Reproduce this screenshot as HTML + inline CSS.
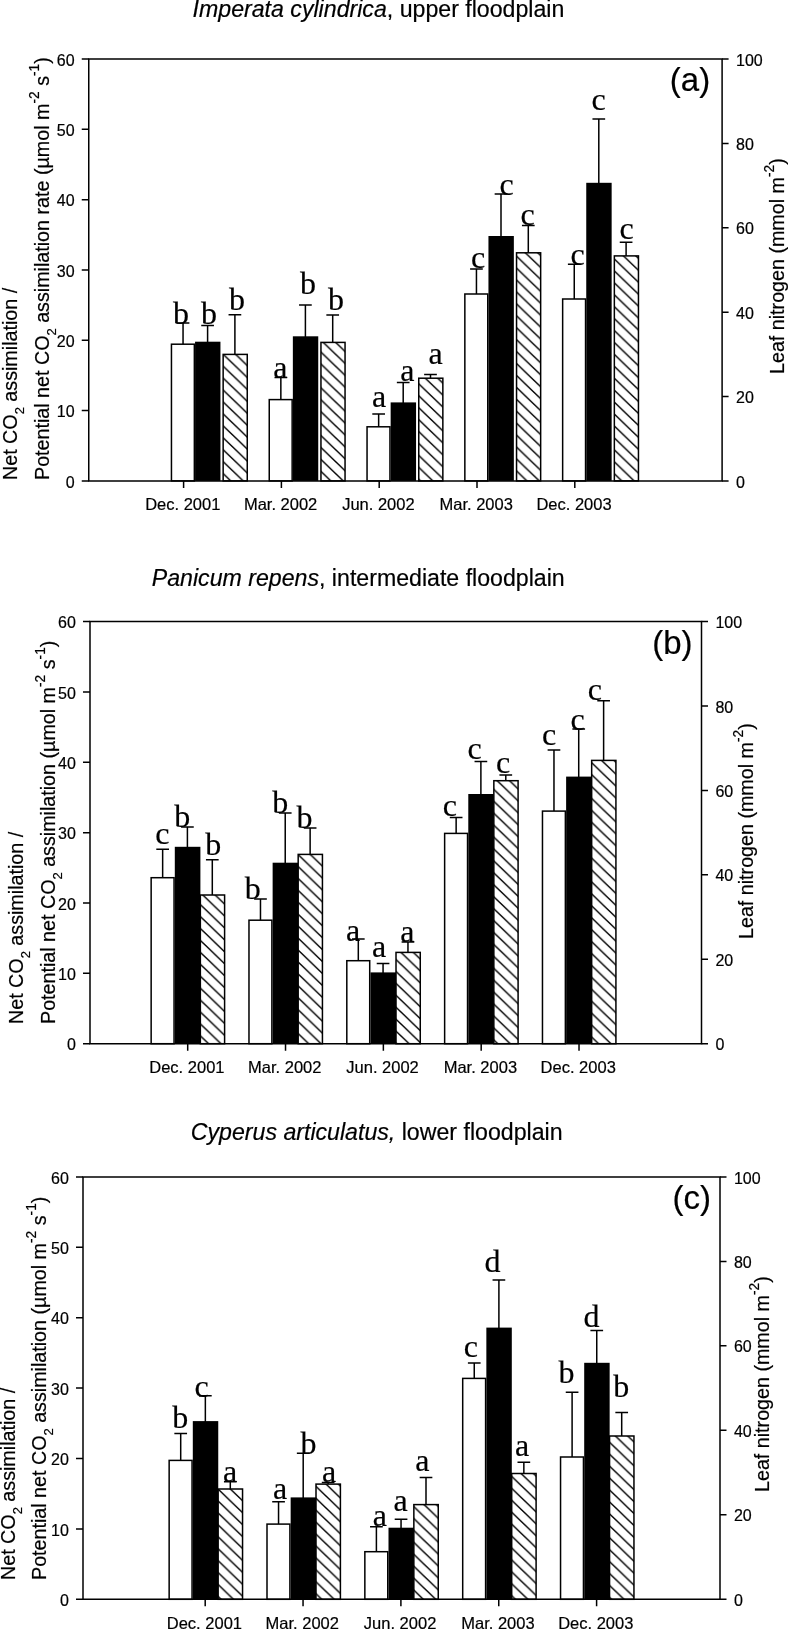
<!DOCTYPE html>
<html><head><meta charset="utf-8"><title>Figure</title>
<style>html,body{margin:0;padding:0;background:#fff}body{width:788px;height:1629px;overflow:hidden;position:relative;filter:grayscale(1);font-family:"Liberation Sans",sans-serif;color:#000}
svg{position:absolute;left:0;top:0}
.t{position:absolute;white-space:nowrap;line-height:1;color:#000;-webkit-text-stroke:0.2px #000}
.yl{transform-origin:0 0;transform:rotate(-90deg);font-size:19.7px}
.yl sub,.yl sup{line-height:0}.yl sub{font-size:66%}.yl sup{font-size:70%}
.yl sub{vertical-align:-0.56em}.yl sup{vertical-align:0.73em}
.ttl{font-size:23.15px}
.tag{font-size:33px}
</style></head><body>
<svg width="788" height="1629" viewBox="0 0 788 1629" font-family="Liberation Sans, sans-serif" fill="#000">
<style>text{stroke:#000;stroke-width:0.2px}</style>
<defs><pattern id="h" patternUnits="userSpaceOnUse" width="12.39" height="11.93"><rect width="12.39" height="11.93" fill="#fff"/><path d="M-1.24,-1.19 L13.63,13.12 M-13.63,-1.19 L1.24,13.12 M11.15,-1.19 L26.02,13.12" stroke="#000" stroke-width="1.4" /></pattern>
<pattern id="ha0" href="#h" patternTransform="translate(0.39 8.53)"/>
<pattern id="ha1" href="#h" patternTransform="translate(1.46 8.66)"/>
<pattern id="ha2" href="#h" patternTransform="translate(4.04 8.37)"/>
<pattern id="ha3" href="#h" patternTransform="translate(5.02 2.27)"/>
<pattern id="ha4" href="#h" patternTransform="translate(4 5.37)"/>
<pattern id="hb0" href="#h" patternTransform="translate(4.86 0.55)"/>
<pattern id="hb1" href="#h" patternTransform="translate(0.75 7.57)"/>
<pattern id="hb2" href="#h" patternTransform="translate(4.52 9.93)"/>
<pattern id="hb3" href="#h" patternTransform="translate(1.6 5.25)"/>
<pattern id="hb4" href="#h" patternTransform="translate(9.52 11.31)"/>
<pattern id="hc0" href="#h" patternTransform="translate(7.38 9.68)"/>
<pattern id="hc1" href="#h" patternTransform="translate(3.86 4.78)"/>
<pattern id="hc2" href="#h" patternTransform="translate(2.84 1.42)"/>
<pattern id="hc3" href="#h" patternTransform="translate(4.51 9.81)"/>
<pattern id="hc4" href="#h" patternTransform="translate(8.79 4.85)"/>
</defs>
<rect width="788" height="1629" fill="#fff"/>
<g id="pa">
<path d="M183.05,344.45 V323.1 M176.7,323.1 H189.4" stroke="#000" stroke-width="1.5" fill="none"/>
<rect x="171.45" y="344.2" width="22.9" height="136.7" fill="#fff" stroke="#000" stroke-width="1.5"/>
<path d="M207.6,342.7 V325.4 M201.25,325.4 H213.95" stroke="#000" stroke-width="1.5" fill="none"/>
<rect x="195.05" y="341.7" width="25.4" height="139.2" fill="#000"/>
<path d="M234.9,354.65 V314.8 M228.55,314.8 H241.25" stroke="#000" stroke-width="1.5" fill="none"/>
<rect x="223.15" y="354.4" width="24.1" height="126.5" fill="url(#ha0)" stroke="#000" stroke-width="1.5"/>
<path d="M280.85,399.85 V377.5 M274.5,377.5 H287.2" stroke="#000" stroke-width="1.5" fill="none"/>
<rect x="269.25" y="399.6" width="22.9" height="81.3" fill="#fff" stroke="#000" stroke-width="1.5"/>
<path d="M305.4,337.3 V305 M299.05,305 H311.75" stroke="#000" stroke-width="1.5" fill="none"/>
<rect x="292.85" y="336.3" width="25.4" height="144.6" fill="#000"/>
<path d="M332.7,342.65 V315 M326.35,315 H339.05" stroke="#000" stroke-width="1.5" fill="none"/>
<rect x="320.95" y="342.4" width="24.1" height="138.5" fill="url(#ha1)" stroke="#000" stroke-width="1.5"/>
<path d="M378.65,427.05 V414.1 M372.3,414.1 H385" stroke="#000" stroke-width="1.5" fill="none"/>
<rect x="367.05" y="426.8" width="22.9" height="54.1" fill="#fff" stroke="#000" stroke-width="1.5"/>
<path d="M403.2,403.4 V382.4 M396.85,382.4 H409.55" stroke="#000" stroke-width="1.5" fill="none"/>
<rect x="390.65" y="402.4" width="25.4" height="78.5" fill="#000"/>
<path d="M430.5,378.45 V374.4 M424.15,374.4 H436.85" stroke="#000" stroke-width="1.5" fill="none"/>
<rect x="418.75" y="378.2" width="24.1" height="102.7" fill="url(#ha2)" stroke="#000" stroke-width="1.5"/>
<path d="M476.45,294.25 V269 M470.1,269 H482.8" stroke="#000" stroke-width="1.5" fill="none"/>
<rect x="464.85" y="294" width="22.9" height="186.9" fill="#fff" stroke="#000" stroke-width="1.5"/>
<path d="M501,237 V194.1 M494.65,194.1 H507.35" stroke="#000" stroke-width="1.5" fill="none"/>
<rect x="488.45" y="236" width="25.4" height="244.9" fill="#000"/>
<path d="M528.3,253.05 V225.5 M521.95,225.5 H534.65" stroke="#000" stroke-width="1.5" fill="none"/>
<rect x="516.55" y="252.8" width="24.1" height="228.1" fill="url(#ha3)" stroke="#000" stroke-width="1.5"/>
<path d="M574.25,299.25 V264.2 M567.9,264.2 H580.6" stroke="#000" stroke-width="1.5" fill="none"/>
<rect x="562.65" y="299" width="22.9" height="181.9" fill="#fff" stroke="#000" stroke-width="1.5"/>
<path d="M598.8,183.8 V118.9 M592.45,118.9 H605.15" stroke="#000" stroke-width="1.5" fill="none"/>
<rect x="586.25" y="182.8" width="25.4" height="298.1" fill="#000"/>
<path d="M626.1,256.15 V242.3 M619.75,242.3 H632.45" stroke="#000" stroke-width="1.5" fill="none"/>
<rect x="614.35" y="255.9" width="24.1" height="225" fill="url(#ha4)" stroke="#000" stroke-width="1.5"/>
<path d="M88,59 H722.85 M88,480.9 H722.85 M88.75,59 V480.9 M722.1,59 V480.9" stroke="#000" stroke-width="1.5" fill="none"/>
<path d="M81.75,480.9 H88.75 M81.75,410.58 H88.75 M81.75,340.27 H88.75 M81.75,269.95 H88.75 M81.75,199.63 H88.75 M81.75,129.32 H88.75 M81.75,59 H88.75 M722.1,480.9 H728.6 M722.1,396.52 H728.6 M722.1,312.14 H728.6 M722.1,227.76 H728.6 M722.1,143.38 H728.6 M722.1,59 H728.6 M183.6,480.9 V487.9 M281.4,480.9 V487.9 M379.2,480.9 V487.9 M477,480.9 V487.9 M574.8,480.9 V487.9" stroke="#000" stroke-width="1.5" fill="none"/>
<text x="74.65" y="487.5" font-size="16" text-anchor="end">0</text>
<text x="74.65" y="417.18" font-size="16" text-anchor="end">10</text>
<text x="74.65" y="346.87" font-size="16" text-anchor="end">20</text>
<text x="74.65" y="276.55" font-size="16" text-anchor="end">30</text>
<text x="74.65" y="206.23" font-size="16" text-anchor="end">40</text>
<text x="74.65" y="135.92" font-size="16" text-anchor="end">50</text>
<text x="74.65" y="65.6" font-size="16" text-anchor="end">60</text>
<text x="736" y="487.5" font-size="16">0</text>
<text x="736" y="403.12" font-size="16">20</text>
<text x="736" y="318.74" font-size="16">40</text>
<text x="736" y="234.36" font-size="16">60</text>
<text x="736" y="149.98" font-size="16">80</text>
<text x="736" y="65.6" font-size="16">100</text>
<text x="182.8" y="510.3" font-size="16.5" text-anchor="middle">Dec. 2001</text>
<text x="280.6" y="510.3" font-size="16.5" text-anchor="middle">Mar. 2002</text>
<text x="378.4" y="510.3" font-size="16.5" text-anchor="middle">Jun. 2002</text>
<text x="476.2" y="510.3" font-size="16.5" text-anchor="middle">Mar. 2003</text>
<text x="574" y="510.3" font-size="16.5" text-anchor="middle">Dec. 2003</text>
<text x="180.9" y="323.7" font-size="32" font-family="Liberation Serif, serif" text-anchor="middle" stroke="#000" stroke-width="0.3">b</text>
<text x="209" y="324.1" font-size="32" font-family="Liberation Serif, serif" text-anchor="middle" stroke="#000" stroke-width="0.3">b</text>
<text x="237.1" y="309.7" font-size="32" font-family="Liberation Serif, serif" text-anchor="middle" stroke="#000" stroke-width="0.3">b</text>
<text x="280.4" y="378.3" font-size="32" font-family="Liberation Serif, serif" text-anchor="middle" stroke="#000" stroke-width="0.3">a</text>
<text x="307.9" y="293.6" font-size="32" font-family="Liberation Serif, serif" text-anchor="middle" stroke="#000" stroke-width="0.3">b</text>
<text x="336" y="310.1" font-size="32" font-family="Liberation Serif, serif" text-anchor="middle" stroke="#000" stroke-width="0.3">b</text>
<text x="379" y="407.3" font-size="32" font-family="Liberation Serif, serif" text-anchor="middle" stroke="#000" stroke-width="0.3">a</text>
<text x="407.3" y="380.6" font-size="32" font-family="Liberation Serif, serif" text-anchor="middle" stroke="#000" stroke-width="0.3">a</text>
<text x="435.6" y="364.4" font-size="32" font-family="Liberation Serif, serif" text-anchor="middle" stroke="#000" stroke-width="0.3">a</text>
<text x="478.1" y="267.5" font-size="32" font-family="Liberation Serif, serif" text-anchor="middle" stroke="#000" stroke-width="0.3">c</text>
<text x="506.7" y="194.8" font-size="32" font-family="Liberation Serif, serif" text-anchor="middle" stroke="#000" stroke-width="0.3">c</text>
<text x="527.6" y="224.9" font-size="32" font-family="Liberation Serif, serif" text-anchor="middle" stroke="#000" stroke-width="0.3">c</text>
<text x="577.5" y="265" font-size="32" font-family="Liberation Serif, serif" text-anchor="middle" stroke="#000" stroke-width="0.3">c</text>
<text x="598.6" y="109.9" font-size="32" font-family="Liberation Serif, serif" text-anchor="middle" stroke="#000" stroke-width="0.3">c</text>
<text x="626.7" y="239" font-size="32" font-family="Liberation Serif, serif" text-anchor="middle" stroke="#000" stroke-width="0.3">c</text>
</g>
<g id="pb">
<path d="M162.65,877.95 V849.3 M156.3,849.3 H169" stroke="#000" stroke-width="1.5" fill="none"/>
<rect x="151.15" y="877.7" width="22.9" height="166" fill="#fff" stroke="#000" stroke-width="1.5"/>
<path d="M187.4,847.8 V827 M181.05,827 H193.75" stroke="#000" stroke-width="1.5" fill="none"/>
<rect x="174.8" y="846.8" width="25.6" height="196.9" fill="#000"/>
<path d="M212.3,895.25 V859.7 M205.95,859.7 H218.65" stroke="#000" stroke-width="1.5" fill="none"/>
<rect x="200.35" y="895" width="24.25" height="148.7" fill="url(#hb0)" stroke="#000" stroke-width="1.5"/>
<path d="M260.48,920.45 V899 M254.13,899 H266.83" stroke="#000" stroke-width="1.5" fill="none"/>
<rect x="248.98" y="920.2" width="22.9" height="123.5" fill="#fff" stroke="#000" stroke-width="1.5"/>
<path d="M285.23,863.7 V813 M278.88,813 H291.58" stroke="#000" stroke-width="1.5" fill="none"/>
<rect x="272.63" y="862.7" width="25.6" height="181" fill="#000"/>
<path d="M310.13,854.65 V828 M303.78,828 H316.48" stroke="#000" stroke-width="1.5" fill="none"/>
<rect x="298.18" y="854.4" width="24.25" height="189.3" fill="url(#hb1)" stroke="#000" stroke-width="1.5"/>
<path d="M358.31,960.95 V939.1 M351.96,939.1 H364.66" stroke="#000" stroke-width="1.5" fill="none"/>
<rect x="346.81" y="960.7" width="22.9" height="83" fill="#fff" stroke="#000" stroke-width="1.5"/>
<path d="M383.06,973.4 V963.5 M376.71,963.5 H389.41" stroke="#000" stroke-width="1.5" fill="none"/>
<rect x="370.46" y="972.4" width="25.6" height="71.3" fill="#000"/>
<path d="M407.96,952.65 V941.9 M401.61,941.9 H414.31" stroke="#000" stroke-width="1.5" fill="none"/>
<rect x="396.01" y="952.4" width="24.25" height="91.3" fill="url(#hb2)" stroke="#000" stroke-width="1.5"/>
<path d="M456.14,833.65 V817.5 M449.79,817.5 H462.49" stroke="#000" stroke-width="1.5" fill="none"/>
<rect x="444.64" y="833.4" width="22.9" height="210.3" fill="#fff" stroke="#000" stroke-width="1.5"/>
<path d="M480.89,795 V761.4 M474.54,761.4 H487.24" stroke="#000" stroke-width="1.5" fill="none"/>
<rect x="468.29" y="794" width="25.6" height="249.7" fill="#000"/>
<path d="M505.79,780.95 V775 M499.44,775 H512.14" stroke="#000" stroke-width="1.5" fill="none"/>
<rect x="493.84" y="780.7" width="24.25" height="263" fill="url(#hb3)" stroke="#000" stroke-width="1.5"/>
<path d="M553.97,811.35 V750 M547.62,750 H560.32" stroke="#000" stroke-width="1.5" fill="none"/>
<rect x="542.47" y="811.1" width="22.9" height="232.6" fill="#fff" stroke="#000" stroke-width="1.5"/>
<path d="M578.72,777.6 V729 M572.37,729 H585.07" stroke="#000" stroke-width="1.5" fill="none"/>
<rect x="566.12" y="776.6" width="25.6" height="267.1" fill="#000"/>
<path d="M603.62,760.65 V700.8 M597.27,700.8 H609.97" stroke="#000" stroke-width="1.5" fill="none"/>
<rect x="591.67" y="760.4" width="24.25" height="283.3" fill="url(#hb4)" stroke="#000" stroke-width="1.5"/>
<path d="M89.25,621.6 H702.25 M89.25,1043.7 H702.25 M90,621.6 V1043.7 M701.5,621.6 V1043.7" stroke="#000" stroke-width="1.5" fill="none"/>
<path d="M83,1043.7 H90 M83,973.35 H90 M83,903 H90 M83,832.65 H90 M83,762.3 H90 M83,691.95 H90 M83,621.6 H90 M701.5,1043.7 H708 M701.5,959.28 H708 M701.5,874.86 H708 M701.5,790.44 H708 M701.5,706.02 H708 M701.5,621.6 H708 M187.7,1043.7 V1050.7 M285.53,1043.7 V1050.7 M383.36,1043.7 V1050.7 M481.19,1043.7 V1050.7 M579.02,1043.7 V1050.7" stroke="#000" stroke-width="1.5" fill="none"/>
<text x="75.9" y="1050.3" font-size="16" text-anchor="end">0</text>
<text x="75.9" y="979.95" font-size="16" text-anchor="end">10</text>
<text x="75.9" y="909.6" font-size="16" text-anchor="end">20</text>
<text x="75.9" y="839.25" font-size="16" text-anchor="end">30</text>
<text x="75.9" y="768.9" font-size="16" text-anchor="end">40</text>
<text x="75.9" y="698.55" font-size="16" text-anchor="end">50</text>
<text x="75.9" y="628.2" font-size="16" text-anchor="end">60</text>
<text x="715.4" y="1050.3" font-size="16">0</text>
<text x="715.4" y="965.88" font-size="16">20</text>
<text x="715.4" y="881.46" font-size="16">40</text>
<text x="715.4" y="797.04" font-size="16">60</text>
<text x="715.4" y="712.62" font-size="16">80</text>
<text x="715.4" y="628.2" font-size="16">100</text>
<text x="186.9" y="1073.1" font-size="16.5" text-anchor="middle">Dec. 2001</text>
<text x="284.73" y="1073.1" font-size="16.5" text-anchor="middle">Mar. 2002</text>
<text x="382.56" y="1073.1" font-size="16.5" text-anchor="middle">Jun. 2002</text>
<text x="480.39" y="1073.1" font-size="16.5" text-anchor="middle">Mar. 2003</text>
<text x="578.22" y="1073.1" font-size="16.5" text-anchor="middle">Dec. 2003</text>
<text x="162.4" y="844" font-size="32" font-family="Liberation Serif, serif" text-anchor="middle" stroke="#000" stroke-width="0.3">c</text>
<text x="182.3" y="827.4" font-size="32" font-family="Liberation Serif, serif" text-anchor="middle" stroke="#000" stroke-width="0.3">b</text>
<text x="213.3" y="855.3" font-size="32" font-family="Liberation Serif, serif" text-anchor="middle" stroke="#000" stroke-width="0.3">b</text>
<text x="252.7" y="898.6" font-size="32" font-family="Liberation Serif, serif" text-anchor="middle" stroke="#000" stroke-width="0.3">b</text>
<text x="280.2" y="813.3" font-size="32" font-family="Liberation Serif, serif" text-anchor="middle" stroke="#000" stroke-width="0.3">b</text>
<text x="304.5" y="828" font-size="32" font-family="Liberation Serif, serif" text-anchor="middle" stroke="#000" stroke-width="0.3">b</text>
<text x="353.05" y="940.5" font-size="32" font-family="Liberation Serif, serif" text-anchor="middle" stroke="#000" stroke-width="0.3">a</text>
<text x="379.2" y="957.2" font-size="32" font-family="Liberation Serif, serif" text-anchor="middle" stroke="#000" stroke-width="0.3">a</text>
<text x="407.4" y="942" font-size="32" font-family="Liberation Serif, serif" text-anchor="middle" stroke="#000" stroke-width="0.3">a</text>
<text x="449.8" y="816.1" font-size="32" font-family="Liberation Serif, serif" text-anchor="middle" stroke="#000" stroke-width="0.3">c</text>
<text x="474.6" y="759.2" font-size="32" font-family="Liberation Serif, serif" text-anchor="middle" stroke="#000" stroke-width="0.3">c</text>
<text x="503.1" y="773.2" font-size="32" font-family="Liberation Serif, serif" text-anchor="middle" stroke="#000" stroke-width="0.3">c</text>
<text x="549.1" y="744.7" font-size="32" font-family="Liberation Serif, serif" text-anchor="middle" stroke="#000" stroke-width="0.3">c</text>
<text x="577.5" y="729.7" font-size="32" font-family="Liberation Serif, serif" text-anchor="middle" stroke="#000" stroke-width="0.3">c</text>
<text x="594.9" y="699.5" font-size="32" font-family="Liberation Serif, serif" text-anchor="middle" stroke="#000" stroke-width="0.3">c</text>
</g>
<g id="pc">
<path d="M180.7,1460.65 V1433.5 M174.35,1433.5 H187.05" stroke="#000" stroke-width="1.5" fill="none"/>
<rect x="169.15" y="1460.4" width="22.9" height="138.9" fill="#fff" stroke="#000" stroke-width="1.5"/>
<path d="M205.35,1422.1 V1395.8 M199,1395.8 H211.7" stroke="#000" stroke-width="1.5" fill="none"/>
<rect x="192.8" y="1421.1" width="25.45" height="178.2" fill="#000"/>
<path d="M230.3,1489.25 V1481.7 M223.95,1481.7 H236.65" stroke="#000" stroke-width="1.5" fill="none"/>
<rect x="218.15" y="1489" width="24.4" height="110.3" fill="url(#hc0)" stroke="#000" stroke-width="1.5"/>
<path d="M278.55,1524.35 V1501.85 M272.2,1501.85 H284.9" stroke="#000" stroke-width="1.5" fill="none"/>
<rect x="267" y="1524.1" width="22.9" height="75.2" fill="#fff" stroke="#000" stroke-width="1.5"/>
<path d="M303.2,1498.4 V1453.25 M296.85,1453.25 H309.55" stroke="#000" stroke-width="1.5" fill="none"/>
<rect x="290.65" y="1497.4" width="25.45" height="101.9" fill="#000"/>
<path d="M328.15,1484.35 V1482.5 M321.8,1482.5 H334.5" stroke="#000" stroke-width="1.5" fill="none"/>
<rect x="316" y="1484.1" width="24.4" height="115.2" fill="url(#hc1)" stroke="#000" stroke-width="1.5"/>
<path d="M376.4,1551.95 V1526.85 M370.05,1526.85 H382.75" stroke="#000" stroke-width="1.5" fill="none"/>
<rect x="364.85" y="1551.7" width="22.9" height="47.6" fill="#fff" stroke="#000" stroke-width="1.5"/>
<path d="M401.05,1528.7 V1519.2 M394.7,1519.2 H407.4" stroke="#000" stroke-width="1.5" fill="none"/>
<rect x="388.5" y="1527.7" width="25.45" height="71.6" fill="#000"/>
<path d="M426,1504.85 V1477.4 M419.65,1477.4 H432.35" stroke="#000" stroke-width="1.5" fill="none"/>
<rect x="413.85" y="1504.6" width="24.4" height="94.7" fill="url(#hc2)" stroke="#000" stroke-width="1.5"/>
<path d="M474.25,1378.65 V1363.1 M467.9,1363.1 H480.6" stroke="#000" stroke-width="1.5" fill="none"/>
<rect x="462.7" y="1378.4" width="22.9" height="220.9" fill="#fff" stroke="#000" stroke-width="1.5"/>
<path d="M498.9,1328.6 V1280 M492.55,1280 H505.25" stroke="#000" stroke-width="1.5" fill="none"/>
<rect x="486.35" y="1327.6" width="25.45" height="271.7" fill="#000"/>
<path d="M523.85,1473.75 V1462.3 M517.5,1462.3 H530.2" stroke="#000" stroke-width="1.5" fill="none"/>
<rect x="511.7" y="1473.5" width="24.4" height="125.8" fill="url(#hc3)" stroke="#000" stroke-width="1.5"/>
<path d="M572.1,1457.25 V1392.15 M565.75,1392.15 H578.45" stroke="#000" stroke-width="1.5" fill="none"/>
<rect x="560.55" y="1457" width="22.9" height="142.3" fill="#fff" stroke="#000" stroke-width="1.5"/>
<path d="M596.75,1363.8 V1330.5 M590.4,1330.5 H603.1" stroke="#000" stroke-width="1.5" fill="none"/>
<rect x="584.2" y="1362.8" width="25.45" height="236.5" fill="#000"/>
<path d="M621.7,1436.25 V1412.6 M615.35,1412.6 H628.05" stroke="#000" stroke-width="1.5" fill="none"/>
<rect x="609.55" y="1436" width="24.4" height="163.3" fill="url(#hc4)" stroke="#000" stroke-width="1.5"/>
<path d="M82.25,1176.9 H720.75 M82.25,1599.3 H720.75 M83,1176.9 V1599.3 M720,1176.9 V1599.3" stroke="#000" stroke-width="1.5" fill="none"/>
<path d="M76,1599.3 H83 M76,1528.9 H83 M76,1458.5 H83 M76,1388.1 H83 M76,1317.7 H83 M76,1247.3 H83 M76,1176.9 H83 M720,1599.3 H726.5 M720,1514.82 H726.5 M720,1430.34 H726.5 M720,1345.86 H726.5 M720,1261.38 H726.5 M720,1176.9 H726.5 M205.2,1599.3 V1606.3 M303.05,1599.3 V1606.3 M400.9,1599.3 V1606.3 M498.75,1599.3 V1606.3 M596.6,1599.3 V1606.3" stroke="#000" stroke-width="1.5" fill="none"/>
<text x="68.9" y="1605.9" font-size="16" text-anchor="end">0</text>
<text x="68.9" y="1535.5" font-size="16" text-anchor="end">10</text>
<text x="68.9" y="1465.1" font-size="16" text-anchor="end">20</text>
<text x="68.9" y="1394.7" font-size="16" text-anchor="end">30</text>
<text x="68.9" y="1324.3" font-size="16" text-anchor="end">40</text>
<text x="68.9" y="1253.9" font-size="16" text-anchor="end">50</text>
<text x="68.9" y="1183.5" font-size="16" text-anchor="end">60</text>
<text x="733.9" y="1605.9" font-size="16">0</text>
<text x="733.9" y="1521.42" font-size="16">20</text>
<text x="733.9" y="1436.94" font-size="16">40</text>
<text x="733.9" y="1352.46" font-size="16">60</text>
<text x="733.9" y="1267.98" font-size="16">80</text>
<text x="733.9" y="1183.5" font-size="16">100</text>
<text x="204.4" y="1628.7" font-size="16.5" text-anchor="middle">Dec. 2001</text>
<text x="302.25" y="1628.7" font-size="16.5" text-anchor="middle">Mar. 2002</text>
<text x="400.1" y="1628.7" font-size="16.5" text-anchor="middle">Jun. 2002</text>
<text x="497.95" y="1628.7" font-size="16.5" text-anchor="middle">Mar. 2003</text>
<text x="595.8" y="1628.7" font-size="16.5" text-anchor="middle">Dec. 2003</text>
<text x="180.3" y="1427.8" font-size="32" font-family="Liberation Serif, serif" text-anchor="middle" stroke="#000" stroke-width="0.3">b</text>
<text x="201.5" y="1397" font-size="32" font-family="Liberation Serif, serif" text-anchor="middle" stroke="#000" stroke-width="0.3">c</text>
<text x="230.2" y="1482.4" font-size="32" font-family="Liberation Serif, serif" text-anchor="middle" stroke="#000" stroke-width="0.3">a</text>
<text x="280.1" y="1499.4" font-size="32" font-family="Liberation Serif, serif" text-anchor="middle" stroke="#000" stroke-width="0.3">a</text>
<text x="308.5" y="1454.3" font-size="32" font-family="Liberation Serif, serif" text-anchor="middle" stroke="#000" stroke-width="0.3">b</text>
<text x="329.1" y="1482.3" font-size="32" font-family="Liberation Serif, serif" text-anchor="middle" stroke="#000" stroke-width="0.3">a</text>
<text x="379.8" y="1525.7" font-size="32" font-family="Liberation Serif, serif" text-anchor="middle" stroke="#000" stroke-width="0.3">a</text>
<text x="400.7" y="1511.1" font-size="32" font-family="Liberation Serif, serif" text-anchor="middle" stroke="#000" stroke-width="0.3">a</text>
<text x="422.3" y="1471.1" font-size="32" font-family="Liberation Serif, serif" text-anchor="middle" stroke="#000" stroke-width="0.3">a</text>
<text x="470.9" y="1356.85" font-size="32" font-family="Liberation Serif, serif" text-anchor="middle" stroke="#000" stroke-width="0.3">c</text>
<text x="492.4" y="1271.8" font-size="32" font-family="Liberation Serif, serif" text-anchor="middle" stroke="#000" stroke-width="0.3">d</text>
<text x="522" y="1456.2" font-size="32" font-family="Liberation Serif, serif" text-anchor="middle" stroke="#000" stroke-width="0.3">a</text>
<text x="566.5" y="1382.9" font-size="32" font-family="Liberation Serif, serif" text-anchor="middle" stroke="#000" stroke-width="0.3">b</text>
<text x="591.5" y="1326.5" font-size="32" font-family="Liberation Serif, serif" text-anchor="middle" stroke="#000" stroke-width="0.3">d</text>
<text x="621.2" y="1397.2" font-size="32" font-family="Liberation Serif, serif" text-anchor="middle" stroke="#000" stroke-width="0.3">b</text>
</g>
</svg>
<div class="t ttl" id="ttla" style="left:192.6px;top:-1.7px"><i>Imperata cylindrica</i>, upper floodplain</div>
<div class="t tag" id="taga" style="left:669.8px;top:62.77px">(a)</div>
<div class="t yl" id="y1a" style="left:0.62px;top:479.7px">Net CO<sub>2</sub> assimilation /</div>
<div class="t yl" id="y2a" style="left:32.52px;top:479.7px">Potential net CO<sub>2</sub> assimilation rate (µmol m<sup>-2</sup> s<sup>-1</sup>)</div>
<div class="t yl" id="yra" style="left:767.62px;top:374.3px">Leaf nitrogen (mmol m<sup>-2</sup>)</div>
<div class="t ttl" id="ttlb" style="left:151.8px;top:567.2px"><i>Panicum repens</i>, intermediate floodplain</div>
<div class="t tag" id="tagb" style="left:652.2px;top:626.07px">(b)</div>
<div class="t yl" id="y1b" style="left:6.92px;top:1023.7px">Net CO<sub>2</sub> assimilation /</div>
<div class="t yl" id="y2b" style="left:38.62px;top:1023.7px">Potential net CO<sub>2</sub> assimilation (µmol m<sup>-2</sup> s<sup>-1</sup>)</div>
<div class="t yl" id="yrb" style="left:737.02px;top:939.2px">Leaf nitrogen (mmol m<sup>-2</sup>)</div>
<div class="t ttl" id="ttlc" style="left:190.8px;top:1121.1px"><i>Cyperus articulatus,</i> lower floodplain</div>
<div class="t tag" id="tagc" style="left:672.4px;top:1181.07px">(c)</div>
<div class="t yl" id="y1c" style="left:-0.88px;top:1579.6px">Net CO<sub>2</sub> assimilation /</div>
<div class="t yl" id="y2c" style="left:30.02px;top:1579.6px">Potential net CO<sub>2</sub> assimilation (µmol m<sup>-2</sup> s<sup>-1</sup>)</div>
<div class="t yl" id="yrc" style="left:753.42px;top:1492.4px">Leaf nitrogen (mmol m<sup>-2</sup>)</div>
</body></html>
